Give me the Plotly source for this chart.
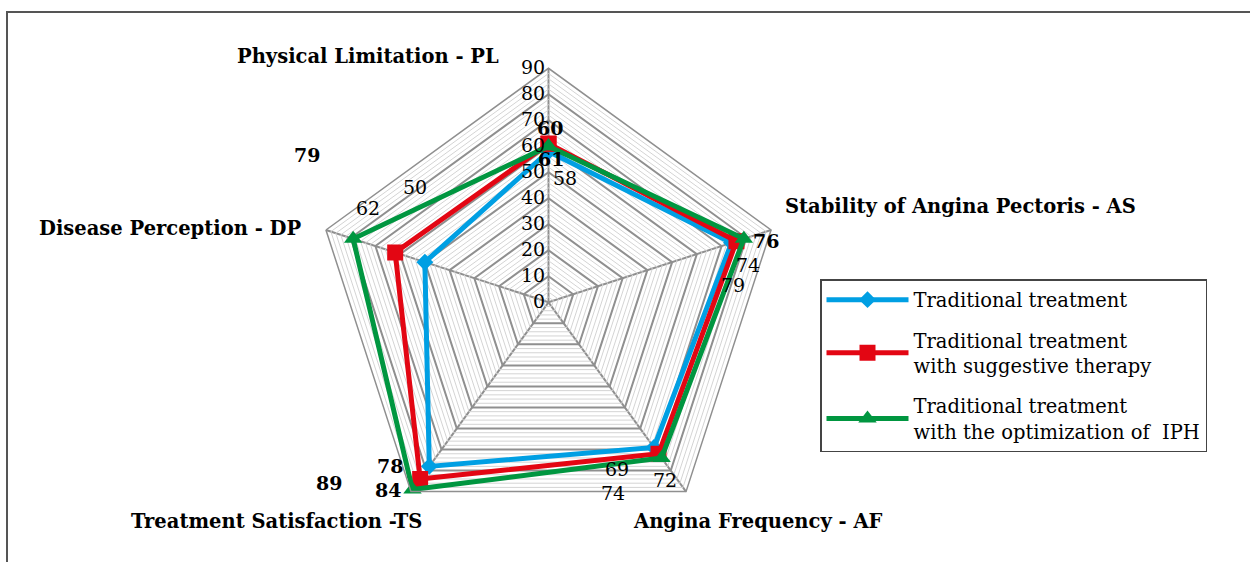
import plotly.graph_objects as go

# ---- data ----
categories = ["Physical Limitation - PL", "Stability of Angina Pectoris - AS",
              "Angina Frequency - AF", "Treatment Satisfaction -TS",
              "Disease Perception - DP"]
series_names = ["Traditional treatment",
                "Traditional treatment<br>with suggestive therapy",
                "Traditional treatment<br>with the optimization of&nbsp; IPH"]
traditional = [58, 74, 69, 78, 50]
suggestive = [61, 76, 72, 84, 62]
optimization = [60, 79, 74, 89, 79]
radial_ticks = [0, 10, 20, 30, 40, 50, 60, 70, 80, 90]

# ---- styling ----
W, H = 1250, 562
CX, CY, R = 548.5, 302.3, 234.0
FONT = "DejaVu Serif"
colors = ["#009fe3", "#e30613", "#009640"]
symbols = ["diamond", "square", "triangle-up"]
msizes = [13, 16, 16]
values = [traditional, suggestive, optimization]

fig = go.Figure()

# minor radial grid rings (every 2 units)
theta_closed = categories + [categories[0]]
for lvl in range(2, 90, 2):
    if lvl % 10 == 0:
        continue
    fig.add_trace(go.Scatterpolar(r=[lvl] * 6, theta=theta_closed, mode="lines",
                                  line=dict(color="#d4d4d4", width=1),
                                  showlegend=False, hoverinfo="skip"))

for i, (name, vals, c, s, ms) in enumerate(zip(series_names, values, colors, symbols, msizes)):
    fig.add_trace(go.Scatterpolar(r=vals + [vals[0]], theta=theta_closed,
                                  mode="lines+markers", name=name, legendgroup="g%d" % i,
                                  line=dict(color=c, width=5),
                                  marker=dict(symbol=s, size=ms, color=c)))


def px(x, y):
    return x / W, 1 - y / H

annotations = []
# category labels: (x, y, xanchor)
cat_pos = [(368, 56, "center"), (783, 206, "left"), (631, 521, "left"),
           (424, 521, "right"), (303, 228, "right")]
for cat, (x, y, xa) in zip(categories, cat_pos):
    ax, ay = px(x, y)
    annotations.append(dict(x=ax, y=ay, xref="paper", yref="paper", text="<b>%s</b>" % cat,
                            showarrow=False, xanchor=xa, yanchor="middle",
                            font=dict(family=FONT, size=19.5, color="black")))

# data label positions per series per axis: (x, y, bold)
label_pos = [
    [(565, 178, False), (748, 265, False), (617, 469, False), (390, 466, True), (415, 187, False)],
    [(551, 159, True), (766, 241, True), (665, 480, False), (388, 490, True), (368, 208, False)],
    [(550, 128, True), (733, 285, False), (613, 493, False), (329, 483, True), (307, 155, True)],
]
for vals, poss in zip(values, label_pos):
    for v, (x, y, b) in zip(vals, poss):
        ax, ay = px(x, y)
        t = "<b>%d</b>" % v if b else "%d" % v
        annotations.append(dict(x=ax, y=ay, xref="paper", yref="paper", text=t,
                                showarrow=False, xanchor="center", yanchor="middle",
                                font=dict(family=FONT, size=19, color="black")))

fig.update_layout(
    width=W, height=H,
    margin=dict(l=0, r=0, t=0, b=0),
    paper_bgcolor="white",
    showlegend=True,
    polar=dict(
        domain=dict(x=[(CX - R) / W, (CX + R) / W], y=[(H - CY - R) / H, (H - CY + R) / H]),
        gridshape="linear",
        bgcolor="white",
        radialaxis=dict(range=[0, 90], tickvals=radial_ticks, angle=90, tickangle=90,
                        side="counterclockwise", showline=False, ticks="",
                        gridcolor="#8f8f8f", gridwidth=1.5,
                        tickfont=dict(family=FONT, size=19, color="black")),
        angularaxis=dict(type="category", rotation=90, direction="clockwise",
                         showticklabels=False, ticks="", showline=True,
                         linecolor="#8f8f8f", linewidth=1.5,
                         gridcolor="#8f8f8f", gridwidth=1.5),
    ),
    legend=dict(x=820 / W, y=1 - 279 / H, xanchor="left", yanchor="top",
                bordercolor="#444", borderwidth=1.5, bgcolor="white",
                font=dict(family=FONT, size=19.5, color="black"),
                tracegroupgap=12, itemwidth=82),
    annotations=annotations,
    shapes=[dict(type="rect", xref="paper", yref="paper",
                 x0=7 / W, x1=1.05, y0=-0.05, y1=1 - 12 / H,
                 line=dict(color="#555", width=2), fillcolor="rgba(0,0,0,0)", layer="below")],
)

fig.write_html("out.html", config={"displayModeBar": False},
               post_script="document.body.style.margin='0';")
